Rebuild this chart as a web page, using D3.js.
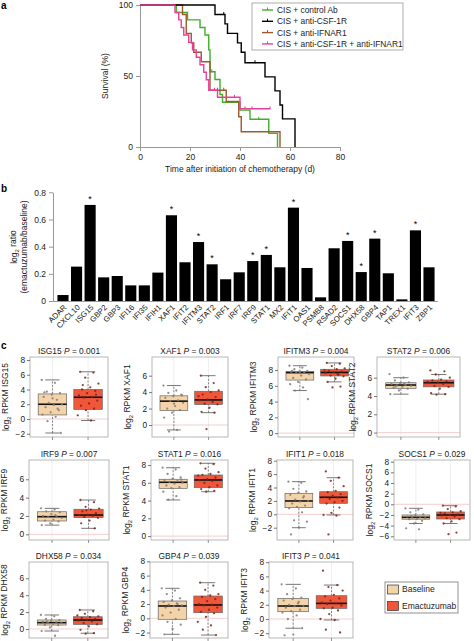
<!DOCTYPE html>
<html><head><meta charset="utf-8">
<script src="https://cdn.jsdelivr.net/npm/d3@7/dist/d3.min.js"></script>
<style>body{margin:0;background:#fff} svg text{font-family:"Liberation Sans",Arial,Helvetica,sans-serif}</style>
</head><body><svg id="c" width="474" height="641"></svg>
<script>
// ---------------- DATA ----------------
// Panel a: Kaplan-Meier survival
const kmGroups = ["CIS + control Ab","CIS + anti-CSF-1R","CIS + anti-IFNAR1","CIS + anti-CSF-1R + anti-IFNAR1"];
const kmColors = ["#3fae2a","#000000","#9b5a2c","#e8409a"];
const ctrlTime = [0,14.5,19,24,26,27.5,28,30,32,33,40,44,51.5,55];
const ctrlSurv = [100,94.7,89.5,84.2,78.9,68.4,53,47.5,37,31.5,26,19.5,9.6,0];
const ctrlCensor = [28.7,47.5];
const csfTime = [0,30,34,35,39,40.5,42,50,54,56,57,62];
const csfSurv = [100,93.3,86.7,80,73.3,66.7,59.3,49.4,39.5,29.6,19.8,0];
const csfCensor = [33.5,46];
const ifnTime = [0,17,18.5,20.5,21.5,24.5,28,34.5,39.5,40.5,56];
const ifnSurv = [100,93.3,80,73.3,66.7,60,40,32,21.3,10.7,0];
const ifnCensor = [31,33.5];
const comboTime = [0,14,15.5,16.5,17.5,19.5,21,22.5,24,25.5,26.5,27.5,31,40,52];
const comboSurv = [100,94.7,89.5,84.2,78.9,73.7,68.4,63.2,57.9,52.6,47.4,40,35,26.9,26.9];
const comboCensor = [29.8,37.8,42,44.8,52];
const kmXTicks = [0,20,40,60,80];
const kmYTicks = [0,50,100];

// Panel b: log2 ratio per gene
const genes = ["ADAR","CXCL10","ISG15","GBP2","GBP3","IFI16","IFI35","IFIH1","XAF1","IFIT2","IFITM3","STAT2","IRF1","IRF7","IRF9","STAT1","MX2","IFIT1","OAS1","PSMB8","RSAD2","SOCS1","DHX58","GBP4","TAP1","TREX1","IFIT3","ZBP1"];
const log2Ratio = [0.044,0.253,0.707,0.174,0.184,0.115,0.115,0.209,0.631,0.285,0.434,0.270,0.160,0.211,0.294,0.339,0.248,0.687,0.243,0.027,0.388,0.442,0.213,0.459,0.204,0.012,0.520,0.248];
const significant = ["ISG15","XAF1","IFITM3","STAT2","IRF9","STAT1","IFIT1","SOCS1","DHX58","GBP4","IFIT3"];
const ratioTicks = [0,0.2,0.4,0.6,0.8];

// Panel c: box plots, log2 RPKM
const boxGenes = ["ISG15","XAF1","IFITM3","STAT2","IRF9","STAT1","IFIT1","SOCS1","DHX58","GBP4","IFIT3"];
const pValues = ["0.001","0.003","0.004","0.006","0.007","0.016","0.018","0.029","0.034","0.039","0.041"];
const boxTicks = [[-2,0,2,4,6,8],[0,2,4,6],[0,2,4,6,8],[0,2,4,6],[0,2,4,6],[0,2,4,6,8],[-2,0,2,4,6,8],[-6,-4,-2,0,2,4,6,8],[0,2,4,6],[-2,0,2,4,6,8],[-2,0,2,4,6,8]];
// [lower whisker, Q1, median, Q3, upper whisker]
const baselineStats = [[-1.9,0.55,2.0,3.4,5.3],[-0.6,1.75,2.9,3.55,4.8],[5.4,6.73,7.67,7.8,8.55],[4.2,4.84,5.2,5.45,6.0],[1.0,1.45,1.92,2.46,2.83],[4.07,5.38,6.06,6.4,7.7],[-2.0,0.99,1.99,3.13,4.87],[-3.6,-2.8,-2.44,-2.0,-0.75],[-0.24,0.47,0.75,1.07,1.66],[-2.25,-0.14,1.73,2.43,4.21],[-1.3,1.03,1.83,2.9,4.88]];
const emactStats = [[-0.2,1.3,2.95,4.0,6.4],[1.5,2.5,3.05,4.1,6.0],[6.5,7.25,7.7,8.1,8.9],[4.2,5.0,5.45,5.75,6.35],[0.65,1.82,2.1,2.73,3.74],[5.0,5.45,6.32,6.88,8.2],[-0.1,1.64,2.54,3.37,5.46],[-3.6,-2.76,-2.0,-1.44,-0.26],[-0.5,0.55,1.06,1.45,2.25],[-2.35,0.79,1.87,3.13,5.0],[-0.14,1.5,2.2,3.28,4.78]];
const baselinePoints = [
 [5.3,4.9,3.7,3.5,3.3,3.0,2.6,2.2,2.0,1.9,1.6,1.2,0.9,0.6,0.3,-0.3,-1.9,2.8,3.6,1.4],
 [4.8,4.2,3.9,3.7,3.5,3.3,3.0,2.9,2.7,2.3,2.0,1.8,1.5,0.9,-0.6,-0.8,3.6,2.6],
 [8.55,8.3,8.1,7.9,7.8,7.75,7.7,7.65,7.5,7.3,7.0,6.8,6.5,6.2,5.8,5.4,4.3,7.6,7.9],
 [6.4,6.0,5.7,5.5,5.4,5.3,5.2,5.15,5.1,5.0,4.9,4.8,4.6,4.2,5.35,5.05],
 [2.83,2.7,2.5,2.4,2.2,2.0,1.95,1.9,1.8,1.6,1.5,1.4,1.2,1.0,2.1],
 [7.7,7.5,7.0,6.6,6.45,6.3,6.2,6.1,6.0,5.9,5.7,5.5,5.4,5.0,4.5,4.1,6.35],
 [4.87,4.7,3.8,3.4,3.2,2.9,2.5,2.2,2.0,1.9,1.6,1.3,1.1,0.9,0.3,-0.9,-1.1,-2.0,-3.0,2.7],
 [-0.75,-1.0,-1.5,-1.9,-2.1,-2.3,-2.4,-2.5,-2.6,-2.7,-2.8,-3.1,-3.6,-4.5,-4.7,-2.2],
 [1.66,1.5,1.2,1.05,0.95,0.85,0.8,0.75,0.7,0.6,0.5,0.45,0.2,-0.24,-0.8,0.9],
 [4.21,3.9,3.4,2.8,2.5,2.3,2.1,1.9,1.8,1.7,1.5,1.2,0.8,0.4,-0.1,-0.5,-0.9,-1.5,-2.25,2.0],
 [4.88,4.3,3.5,3.0,2.8,2.6,2.2,2.0,1.85,1.8,1.6,1.3,1.1,0.9,0.5,0.0,-1.3,-2.2,-2.3,2.4]
];
const emactPoints = [
 [6.4,6.3,5.6,4.8,4.3,4.0,3.8,3.5,3.2,3.0,2.9,2.5,2.1,1.8,1.4,1.2,0.5,-0.2,4.6,3.3],
 [6.0,5.1,4.6,4.2,4.0,3.7,3.4,3.1,3.0,2.8,2.6,2.5,2.1,1.6,1.5,-0.5,3.5],
 [8.9,8.8,8.5,8.2,8.1,7.9,7.8,7.7,7.6,7.4,7.3,7.2,6.9,6.5,5.9,5.8,8.0,7.5],
 [6.8,6.7,6.35,6.0,5.8,5.7,5.6,5.5,5.4,5.3,5.1,5.0,4.8,4.3,4.2,4.15,5.55],
 [3.74,3.5,3.0,2.8,2.7,2.5,2.3,2.15,2.1,2.0,1.9,1.8,1.5,1.2,0.65,2.6],
 [8.2,8.1,7.6,7.2,7.0,6.9,6.6,6.4,6.3,6.2,6.0,5.7,5.5,5.3,5.1,5.0,6.8],
 [6.4,5.46,5.0,4.2,3.5,3.3,3.0,2.8,2.6,2.5,2.3,2.0,1.8,1.6,1.0,0.2,-0.1,-0.2,-3.0],
 [-0.26,-0.4,-0.9,-1.3,-1.5,-1.7,-1.9,-2.0,-2.1,-2.3,-2.6,-2.8,-3.2,-3.6,-5.3,-5.6,-1.6],
 [2.25,2.1,1.8,1.5,1.4,1.3,1.2,1.1,1.0,0.9,0.7,0.55,0.3,-0.1,-0.5,-0.55,1.6],
 [5.0,4.6,4.0,3.4,3.2,3.0,2.7,2.4,2.0,1.9,1.8,1.5,1.2,0.9,0.7,0.2,-0.5,-1.0,-1.6,-2.35],
 [6.8,4.78,4.5,4.0,3.4,3.2,2.9,2.6,2.3,2.2,2.1,1.9,1.6,1.5,1.2,0.7,0.0,-0.14,-1.5,-1.9]
];
const groupNames = ["Baseline","Emactuzumab"];
const groupFills = ["#f5d3a8","#f0573a"];
const pointColors = ["#7d7d7d","#7a2616"];

// ---------------- DRAW ----------------
const svg = d3.select("#c");
const AX = "#999";
function styleAxis(g, fs){
  g.select(".domain").attr("stroke",AX).attr("stroke-width",1);
  g.selectAll(".tick line").attr("stroke",AX);
  g.selectAll(".tick text").attr("fill","#222").attr("font-size",fs).attr("font-family",null);
}
function label(txt,x,y){
  svg.append("text").attr("x",x).attr("y",y).attr("font-weight","bold").attr("font-size",10).text(txt);
}
label("a",1,9); label("b",1,192); label("c",1,349);

// ---- Panel a ----
const ax = d3.scaleLinear().domain([0,80]).range([140,340]);
const ay = d3.scaleLinear().domain([0,100]).range([147,5]);
const gA = svg.append("g");
gA.append("g").attr("transform","translate(0,147)")
  .call(d3.axisBottom(ax).tickValues(kmXTicks).tickSize(4).tickSizeOuter(0).tickPadding(3)).call(g=>styleAxis(g,8.5));
gA.append("g").attr("transform","translate(140,0)")
  .call(d3.axisLeft(ay).tickValues(kmYTicks).tickSize(4).tickSizeOuter(0).tickPadding(3)).call(g=>styleAxis(g,8.5));
gA.append("text").attr("transform","translate(108,76) rotate(-90)").attr("text-anchor","middle")
  .attr("font-size",8.5).attr("fill","#222").text("Survival (%)");
gA.append("text").attr("x",240).attr("y",172).attr("text-anchor","middle")
  .attr("font-size",8.5).attr("fill","#222").text("Time after initiation of chemotherapy (d)");
const kmData = [
  [ctrlTime,ctrlSurv,ctrlCensor],
  [csfTime,csfSurv,csfCensor],
  [ifnTime,ifnSurv,ifnCensor],
  [comboTime,comboSurv,comboCensor]
];
const kmLine = d3.line().x(d=>ax(d[0])).y(d=>ay(d[1])).curve(d3.curveStepAfter);
const drawOrder = [0,2,1,3];
drawOrder.forEach(i=>{
  const [t,s,c] = kmData[i];
  const pts = t.map((v,k)=>[v,s[k]]);
  gA.append("path").attr("d",kmLine(pts)).attr("fill","none").attr("stroke",kmColors[i]).attr("stroke-width",1.4);
  c.forEach(ct=>{
    let sv = s[0];
    t.forEach((tv,k)=>{ if (tv<=ct) sv = s[k]; });
    gA.append("line").attr("x1",ax(ct)).attr("x2",ax(ct)).attr("y1",ay(sv)-2.5).attr("y2",ay(sv)+0.5)
      .attr("stroke",kmColors[i]).attr("stroke-width",1);
  });
});
// legend
const lg = gA.append("g");
lg.append("rect").attr("x",252).attr("y",3).attr("width",151).attr("height",47).attr("fill","#fff").attr("stroke","#999").attr("stroke-width",0.8);
kmGroups.forEach((name,i)=>{
  const y = 10 + i*11.3;
  lg.append("line").attr("x1",262).attr("x2",273).attr("y1",y).attr("y2",y).attr("stroke",kmColors[i]).attr("stroke-width",1.4);
  lg.append("line").attr("x1",267.5).attr("x2",267.5).attr("y1",y-2.5).attr("y2",y).attr("stroke",kmColors[i]).attr("stroke-width",1);
  lg.append("text").attr("x",277).attr("y",y).attr("dy","0.35em").attr("font-size",8.4).attr("fill","#222").text(name);
});

// ---- Panel b ----
const bx = d3.scaleBand().domain(genes).range([55,437]).paddingInner(0.18).paddingOuter(0.18);
const by = d3.scaleLinear().domain([0,0.8]).range([301,192.3]);
const gB = svg.append("g");
gB.append("line").attr("x1",53).attr("x2",438).attr("y1",301.5).attr("y2",301.5).attr("stroke",AX);
gB.append("g").attr("transform","translate(53,0)")
  .call(d3.axisLeft(by).tickValues(ratioTicks).tickFormat(d=>d===0?"0":d3.format(".1f")(d)).tickSize(4).tickSizeOuter(0).tickPadding(3))
  .call(g=>styleAxis(g,8.5));
gB.selectAll("rect.bar").data(genes).join("rect").attr("class","bar")
  .attr("x",d=>bx(d)).attr("width",bx.bandwidth())
  .attr("y",(d,i)=>by(log2Ratio[i])).attr("height",(d,i)=>by(0)-by(log2Ratio[i])).attr("fill","#000");
gB.selectAll("text.star").data(genes.filter(g=>significant.includes(g))).join("text").attr("class","star")
  .attr("x",d=>bx(d)+bx.bandwidth()/2).attr("y",d=>by(log2Ratio[genes.indexOf(d)])-3)
  .attr("text-anchor","middle").attr("font-size",9).text("*");
gB.selectAll("text.gl").data(genes).join("text").attr("class","gl")
  .attr("transform",d=>`translate(${bx(d)+bx.bandwidth()/2+2},${306}) rotate(-45)`)
  .attr("text-anchor","end").attr("dy","0.35em").attr("font-size",7.8).attr("fill","#222").text(d=>d);
const yt = gB.append("text").attr("transform","translate(17,247) rotate(-90)").attr("text-anchor","middle").attr("font-size",8.5).attr("fill","#222");
yt.append("tspan").text("log");
yt.append("tspan").attr("font-size",6).attr("dy","0.3em").text("2");
yt.append("tspan").attr("dy","-0.3em").text(" ratio");
gB.append("text").attr("transform","translate(27,247) rotate(-90)").attr("text-anchor","middle").attr("font-size",8.5).attr("fill","#222").text("(emactuzumab/baseline)");

// ---- Panel c ----
// layout: [x0,x1,y0,y1, zeroPx, pxPerUnit]
const layouts = [
  [30,108,357,437,419,7.375],[152,228,357,437,425,8.22],[278,354,357,437,433.1,7.88],[377,460,357,437,432.6,9.15],
  [29,109,460,540,534.3,9.17],[151,228,460,540,536.1,8.88],[277,353,460,540,514.3,6.7],[394,470,460,540,504.3,5.33],
  [29,108,562,638,629,8.45],[150,228,562,638,618.3,7.12],[269,353,562,638,619,7.1]
];
boxGenes.forEach((gene,i)=>{
  const [x0,x1,y0,y1,zp,ppu] = layouts[i];
  const ys = d3.scaleLinear().domain([(zp-y1)/ppu,(zp-y0)/ppu]).range([y1,y0]);
  const xs = d3.scaleLinear().domain([0.37,2.56]).range([x0,x1]);
  const g = svg.append("g");
  [1,2].forEach(c=>g.append("line").attr("x1",xs(c)).attr("x2",xs(c)).attr("y1",y0).attr("y2",y1).attr("stroke","#e4e4e4").attr("stroke-width",0.6));
  if (ys.domain()[0] < 0) g.append("line").attr("x1",x0).attr("x2",x1).attr("y1",ys(0)).attr("y2",ys(0)).attr("stroke","#f2b8b8").attr("stroke-width",0.7);
  g.append("rect").attr("x",x0).attr("y",y0).attr("width",x1-x0).attr("height",y1-y0).attr("fill","none").attr("stroke","#b0b0b0").attr("stroke-width",0.9);
  g.append("g").attr("transform",`translate(${x0},0)`)
    .call(d3.axisLeft(ys).tickValues(boxTicks[i]).tickFormat(d=>d<0?"\u2212"+Math.abs(d):String(d)).tickSize(3).tickSizeOuter(0).tickPadding(2))
    .call(gg=>{gg.select(".domain").remove(); gg.selectAll(".tick line").attr("stroke","#777"); gg.selectAll(".tick text").attr("font-size",8.3).attr("fill","#222").attr("font-family",null);});
  [1,2].forEach(c=>g.append("line").attr("x1",xs(c)).attr("x2",xs(c)).attr("y1",y1).attr("y2",y1+3).attr("stroke","#777").attr("stroke-width",0.8));
  [baselineStats[i],emactStats[i]].forEach((st,k)=>{
    const cx = xs(k+1), hw = (xs(1.4)-xs(1)), cw = hw*0.5;
    g.append("line").attr("x1",cx).attr("x2",cx).attr("y1",ys(st[0])).attr("y2",ys(st[1])).attr("stroke","#555").attr("stroke-width",0.7).attr("stroke-dasharray","2,1.5");
    g.append("line").attr("x1",cx).attr("x2",cx).attr("y1",ys(st[3])).attr("y2",ys(st[4])).attr("stroke","#555").attr("stroke-width",0.7).attr("stroke-dasharray","2,1.5");
    g.append("line").attr("x1",cx-cw).attr("x2",cx+cw).attr("y1",ys(st[0])).attr("y2",ys(st[0])).attr("stroke","#555").attr("stroke-width",0.8);
    g.append("line").attr("x1",cx-cw).attr("x2",cx+cw).attr("y1",ys(st[4])).attr("y2",ys(st[4])).attr("stroke","#555").attr("stroke-width",0.8);
    g.append("rect").attr("x",cx-hw).attr("width",2*hw).attr("y",ys(st[3])).attr("height",ys(st[1])-ys(st[3]))
      .attr("fill",groupFills[k]).attr("stroke","#666").attr("stroke-width",0.7);
    g.append("line").attr("x1",cx-hw).attr("x2",cx+hw).attr("y1",ys(st[2])).attr("y2",ys(st[2])).attr("stroke","#111").attr("stroke-width",1.6);
  });
  [baselinePoints[i],emactPoints[i]].forEach((pts,k)=>{
    pts.forEach((v,j)=>{
      const jit = (((j*0.6180339887)+0.13*k) % 1) - 0.5;
      g.append("circle").attr("cx",xs(k+1+jit*0.6)).attr("cy",ys(v)).attr("r",1.15).attr("fill",pointColors[k]).attr("opacity",0.85);
    });
  });
  const t = g.append("text").attr("x",(x0+x1)/2).attr("y",y0-3).attr("text-anchor","middle").attr("font-size",8.4).attr("fill","#222");
  t.append("tspan").text(gene+" ");
  t.append("tspan").attr("font-style","italic").text("P");
  t.append("tspan").text(" = "+pValues[i]);
  const yl = g.append("text").attr("transform",`translate(${x0-21},${(y0+y1)/2}) rotate(-90)`).attr("text-anchor","middle").attr("font-size",8.5).attr("fill","#222");
  yl.append("tspan").text("log");
  yl.append("tspan").attr("font-size",6).attr("dy","0.3em").text("2");
  yl.append("tspan").attr("dy","-0.3em").text(" RPKM "+gene);
});
// legend c
const lc = svg.append("g");
lc.append("rect").attr("x",385).attr("y",582).attr("width",73).attr("height",31).attr("fill","#fff").attr("stroke","#777").attr("stroke-width",0.8);
groupNames.forEach((n,k)=>{
  const y = 585 + k*16.5;
  lc.append("rect").attr("x",387.5).attr("y",y).attr("width",11).attr("height",9).attr("fill",groupFills[k]).attr("stroke","#333").attr("stroke-width",0.7);
  lc.append("text").attr("x",402).attr("y",y+4.5).attr("dy","0.35em").attr("font-size",8.5).attr("fill","#222").text(n);
});
</script></body></html>
